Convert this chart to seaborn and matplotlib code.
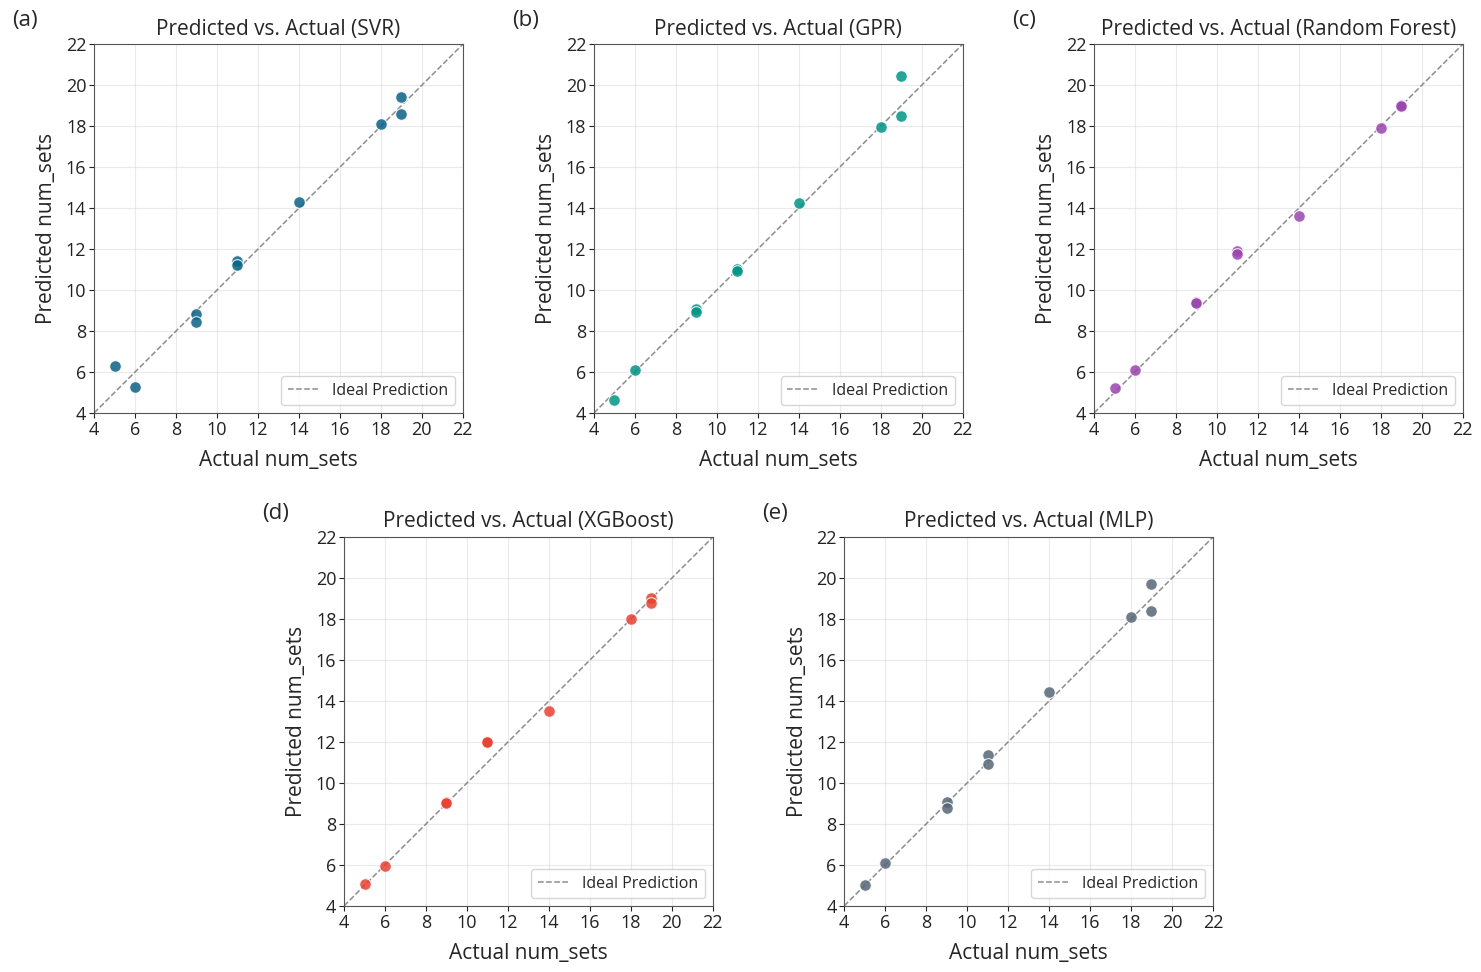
#!/usr/bin/env python3
"""
Predicted vs. actual num_sets for five regression models.
"""

import matplotlib
matplotlib.use("Agg")
import matplotlib.pyplot as plt
import pandas as pd
import seaborn as sns

# Actual num_sets of the test samples (same for all models)
actual = [5, 6, 9, 9, 11, 11, 14, 18, 19, 19]

# Predictions
pred_svr = [6.3, 5.25, 8.85, 8.45, 11.4, 11.2, 14.3, 18.1, 19.4, 18.6]
pred_gpr = [4.65, 6.1, 9.1, 8.95, 11.05, 10.95, 14.25, 17.95, 20.45, 18.5]
pred_rf = [5.2, 6.1, 9.4, 9.38, 11.9, 11.75, 13.6, 17.9, 19.02, 19.0]
pred_xgb = [5.05, 5.95, 9.05, 9.03, 12.0, 11.98, 13.5, 18.0, 19.05, 18.8]
pred_mlp = [5.0, 6.1, 9.05, 8.8, 11.35, 10.95, 14.45, 18.1, 19.7, 18.4]

model_names = ["SVR", "GPR", "Random Forest", "XGBoost", "MLP"]
panel_tags = ["(a)", "(b)", "(c)", "(d)", "(e)"]
model_colors = ["#0b6185", "#009485", "#9a44ae", "#e8402f", "#566676"]

ideal_line = [4, 22]
tick_values = list(range(4, 23, 2))


def main():
    sns.set_style("ticks")
    plt.rcParams["font.family"] = ["Open Sans", "DejaVu Sans"]

    fig = plt.figure(figsize=(14.81, 9.72), dpi=100)

    # axes boxes in figure fractions: 3 on top, 2 centred below
    w, h = 0.249, 0.3796
    boxes = [
        (0.0635, 0.575), (0.401, 0.575), (0.7387, 0.575),
        (0.2323, 0.0679), (0.570, 0.0679),
    ]

    preds = [pred_svr, pred_gpr, pred_rf, pred_xgb, pred_mlp]

    for (left, bottom), name, tag, color, pred in zip(
            boxes, model_names, panel_tags, model_colors, preds):
        ax = fig.add_axes([left, bottom, w, h])
        df = pd.DataFrame({"actual": actual, "predicted": pred})

        sns.scatterplot(data=df, x="actual", y="predicted", ax=ax,
                        color=color, s=70, alpha=0.85, edgecolor="white",
                        linewidth=0.8, zorder=3)
        ax.plot(ideal_line, ideal_line, linestyle="--", color="gray",
                linewidth=1.1, alpha=0.9, label="Ideal Prediction", zorder=2)

        ax.set_xlim(4, 22)
        ax.set_ylim(4, 22)
        ax.set_xticks(tick_values)
        ax.set_yticks(tick_values)
        ax.set_aspect("equal")
        ax.grid(True, alpha=0.4)
        ax.tick_params(labelsize=13, colors="#222222", pad=2)
        for spine in ax.spines.values():
            spine.set_visible(True)
            spine.set_color("#555555")

        ax.set_title(f"Predicted vs. Actual ({name})", fontsize=15, pad=7)
        ax.set_xlabel("Actual num_sets", fontsize=15, labelpad=8)
        ax.set_ylabel("Predicted num_sets", fontsize=15, labelpad=6)
        ax.legend(loc="lower right", fontsize=11.5, frameon=True)
        ax.text(-0.222, 1.065, tag, transform=ax.transAxes,
                fontsize=16, va="center", ha="left")

    fig.savefig("out.png", dpi=100)
    plt.close(fig)


if __name__ == "__main__":
    main()
